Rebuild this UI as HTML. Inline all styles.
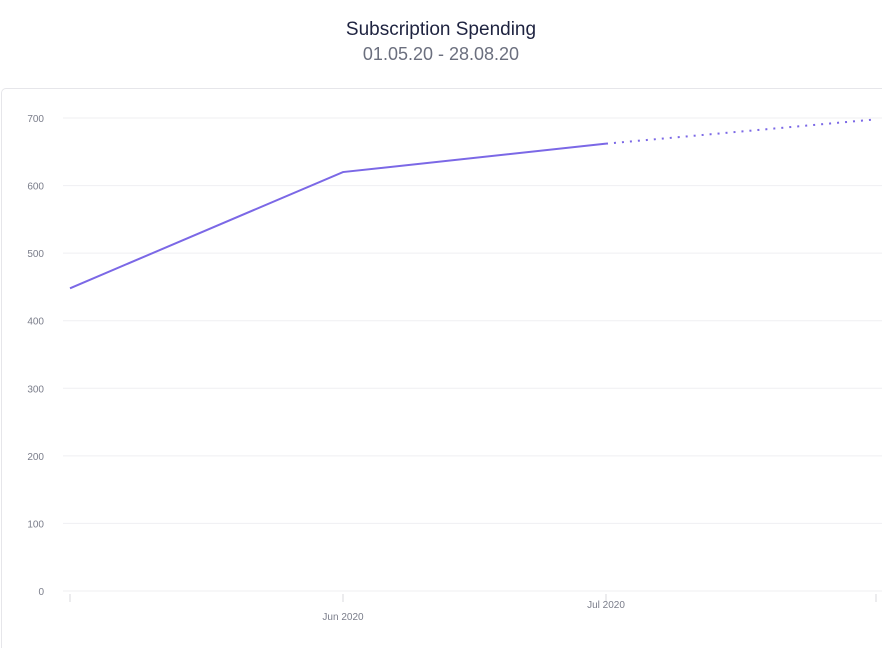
<!DOCTYPE html>
<html><head><meta charset="utf-8"><style>
html,body{margin:0;width:882px;height:648px;overflow:hidden}
body{background:#fff;font-family:"Liberation Sans",sans-serif;position:relative}
#title{position:absolute;top:19px;width:882px;text-align:center;font-size:19px;color:#1e2340}
#sub{position:absolute;top:44px;width:882px;text-align:center;font-size:18px;color:#6b6f7e}
#panel{position:absolute;left:1px;top:88px;width:890px;height:570px;border:1px solid #e6e6ea;border-radius:5px;box-sizing:border-box}
svg{position:absolute;left:0;top:0}
</style></head><body>
<div id="title">Subscription Spending</div>
<div id="sub">01.05.20 - 28.08.20</div>
<div id="panel"></div>
<svg id="c" width="882" height="648"></svg>
<script>
const yTicks=[0,100,200,300,400,500,600,700];
const months=[0,1,2,3];
const monthLabels=["","Jun 2020","Jul 2020",""];
const actualValues=[448,620,662];
const forecastValues=[662,698];
const NS="http://www.w3.org/2000/svg";
const svg=document.getElementById('c');
const y=v=>591-v*(591-118)/700;
const xPos=[70,343,606,876];
const x=i=>xPos[i];
function mk(t,a){const e=document.createElementNS(NS,t);for(const k in a)e.setAttribute(k,a[k]);svg.appendChild(e);return e;}
yTicks.forEach(v=>{
 const g=mk('line',{x1:63,x2:882,y1:y(v),y2:y(v),stroke:'#efeff2','stroke-width':1});
 
 
 const t=mk('text',{x:44,y:y(v)+4,'text-anchor':'end','font-size':10,fill:'#7a7d8a'});
 t.textContent=v;
 
 
});
months.forEach(i=>{
 const l=mk('line',{x1:x(i),x2:x(i),y1:594,y2:602,stroke:'#d8d8de'});
 
 
 if(monthLabels[i]){
  const t=mk('text',{x:x(i),y:i===1?620:608,'text-anchor':'middle','font-size':10,fill:'#7a7d8a'});
  t.textContent=monthLabels[i];
  
  
 }
});
const p=mk('polyline',{points:actualValues.map((v,i)=>x(i)+','+y(v)).join(' '),fill:'none',stroke:'#7b68e6','stroke-width':2});


const f=mk('polyline',{points:forecastValues.map((v,i)=>x(i+2)+','+y(v)).join(' '),fill:'none',stroke:'#7b68e6','stroke-width':2,'stroke-dasharray':'2 6'});


</script>
</body></html>
